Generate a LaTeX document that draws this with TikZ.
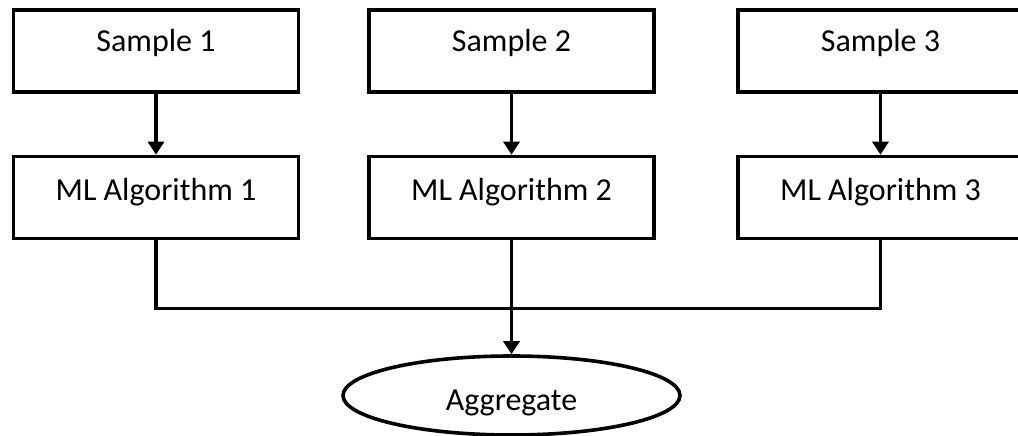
\documentclass[tikz,border=0pt]{standalone}
\usepackage{fontspec}
\setmainfont{Carlito}
\usetikzlibrary{arrows.meta,shapes.geometric}

\tikzset{
  box/.style={draw, line width=3.6pt, rectangle, inner sep=0pt,
    minimum width=285pt, minimum height=82pt,
    font=\fontsize{32}{36}\selectfont},
  samplebox/.style={box, text height=20pt, text depth=18.5pt},
  algbox/.style={box, text height=20pt, text depth=15pt},
  aggnode/.style={draw, line width=3.6pt, ellipse, inner sep=0pt,
    minimum width=337pt, minimum height=79pt,
    text height=29pt, text depth=0pt,
    font=\fontsize{32}{36}\selectfont},
  wire/.style={line width=3.6pt},
  flow/.style={wire, -{Triangle[length=13pt,width=16pt]}}
}

\begin{document}
\begin{tikzpicture}[x=1pt,y=-1pt]
  \useasboundingbox (0,0) rectangle (1018,436);
  \clip (0,0) rectangle (1018,436);

  % samples
  \node[samplebox] (s1) at (156,51.25) {Sample 1};
  \node[samplebox] (s2) at (511.5,51.25) {Sample 2};
  \node[samplebox] (s3) at (880.5,51.25) {Sample 3};

  % learners
  \node[algbox] (m1) at (156,197.5) {ML Algorithm 1};
  \node[algbox] (m2) at (511.5,197.5) {ML Algorithm 2};
  \node[algbox] (m3) at (880.5,197.5) {ML Algorithm 3};

  % combiner
  \node[aggnode] (agg) at (511.5,395.5) {Aggregate};

  \coordinate (j) at (511.5,308.5);

  \draw[flow] (s1) -- (m1);
  \draw[flow] (s2) -- (m2);
  \draw[flow] (s3) -- (m3);

  \draw[wire] (m1.south) |- (j) -| (m3.south);
  \draw[wire] (m2.south) -- (j);
  \draw[flow] (j) -- (agg.north);
\end{tikzpicture}
\end{document}
